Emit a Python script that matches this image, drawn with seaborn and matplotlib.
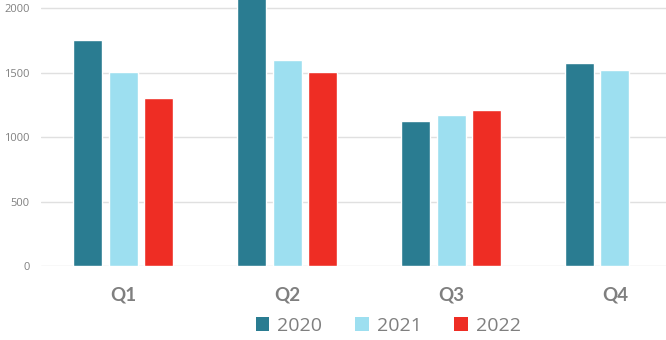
import matplotlib
matplotlib.use("Agg")
import matplotlib.pyplot as plt
import seaborn as sns
import pandas as pd
import numpy as np
from matplotlib.patches import Patch

quarters = ["Q1", "Q2", "Q3", "Q4"]
years = ["2020", "2021", "2022"]
v2020 = [1750, 2150, 1125, 1575]
v2021 = [1505, 1600, 1170, 1520]
v2022 = [1300, 1505, 1210, np.nan]
colors = ["#2A7C91", "#9DDFF0", "#EE2D24"]

rows = []
for y, vals in zip(years, [v2020, v2021, v2022]):
    for q, v in zip(quarters, vals):
        rows.append({"Quarter": q, "Year": y, "Value": v})
df = pd.DataFrame(rows)

sns.set_theme(style="white")
plt.rcParams["font.family"] = ["Lato", "DejaVu Sans"]

fig = plt.figure(figsize=(6.66, 3.40), dpi=100)
ax = fig.add_axes([0.0616, 0.2176, 0.9384, 0.7824])

sns.barplot(data=df, x="Quarter", y="Value", hue="Year", order=quarters,
            hue_order=years, palette=colors, width=0.655, gap=0.19,
            saturation=1, ax=ax, legend=False, errorbar=None)

ax.set_ylim(0, 2062)
ax.set_xlim(-0.5, 3.311)
ax.set_yticks([0, 500, 1000, 1500, 2000])
ax.yaxis.grid(True, color="#E0E0E0", linewidth=1)
ax.set_axisbelow(True)
for s in ax.spines.values():
    s.set_visible(False)
ax.set_xlabel("")
ax.set_ylabel("")
ax.tick_params(axis="y", length=0, pad=8, labelsize=8, labelcolor="#808080")
ax.tick_params(axis="x", length=0, pad=15, labelsize=13.5, labelcolor="#7F7F7F")
for t in ax.get_xticklabels():
    t.set_fontweight("bold")
for t in ax.get_yticklabels():
    t.set_family(["Open Sans", "DejaVu Sans"])

handles = [Patch(facecolor=c, edgecolor="none") for c in colors]
leg = fig.legend(handles, years, loc="center", bbox_to_anchor=(0.583, 0.042),
                 ncol=3, frameon=False, fontsize=14, handlelength=0.7,
                 handleheight=0.7, handletextpad=0.4, columnspacing=1.7)
for t in leg.get_texts():
    t.set_color("#7F7F7F")
    t.set_family(["Open Sans", "DejaVu Sans"])

fig.savefig("out.png", dpi=100)
